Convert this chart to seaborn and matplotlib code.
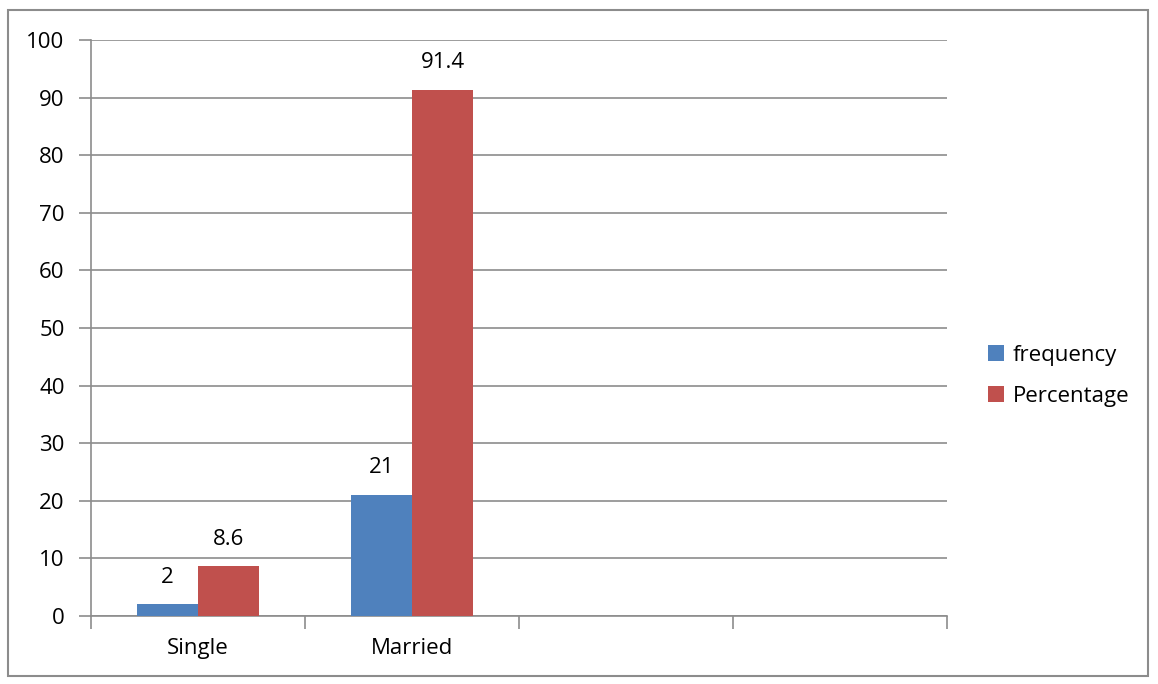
import pandas as pd
import matplotlib.pyplot as plt
import seaborn as sns
from matplotlib.patches import Rectangle

# data
status = ["Single", "Married"]
frequency = [2, 21]
percentage = [8.6, 91.4]
series = ["frequency", "Percentage"]
colors = ["#4F81BD", "#C0504D"]

df = pd.DataFrame({
    "Status": status * 2,
    "Series": [series[0]] * 2 + [series[1]] * 2,
    "Value": frequency + percentage,
})

sns.set_style("white")
plt.rcParams["font.family"] = ["Open Sans", "DejaVu Sans"]
plt.rcParams["text.color"] = "black"
plt.rcParams["xtick.labelcolor"] = "black"
plt.rcParams["ytick.labelcolor"] = "black"
fs = 16

fig = plt.figure(figsize=(11.58, 6.84), dpi=100)
ax = fig.add_axes([0.0786, 0.0994, 0.7392, 0.8421])

sns.barplot(
    data=df, x="Status", y="Value", hue="Series",
    palette=colors, width=0.57, saturation=1, ax=ax, zorder=3,
    edgecolor="none", linewidth=0
)

ax.set_xlim(-0.5, 3.5)
ax.set_ylim(0, 100)
ax.set_yticks(range(0, 101, 10))
ax.yaxis.grid(True, color="#8c8c8c", linewidth=1.2, zorder=0)
ax.set_axisbelow(True)

# category labels at centers, tick marks at boundaries
ax.set_xticks([0, 1])
ax.set_xticklabels(status, fontsize=fs)
ax.set_xticks([-0.5, 0.5, 1.5, 2.5, 3.5], minor=True)
ax.tick_params(axis="x", which="minor", bottom=True, length=9, width=1.2,
               color="#8c8c8c", direction="out")
ax.tick_params(axis="x", which="major", bottom=True, length=0, pad=16,
               labelcolor="black")
ax.tick_params(axis="y", left=True, length=9, width=1.2, color="#8c8c8c",
               direction="out", labelsize=fs, pad=10, labelcolor="black")

for s in ["top", "right"]:
    ax.spines[s].set_visible(False)
for s in ["left", "bottom"]:
    ax.spines[s].set_color("#8c8c8c")
    ax.spines[s].set_linewidth(1.2)

for c in ax.containers:
    ax.bar_label(c, labels=[f"{v:g}" for v in c.datavalues], padding=12,
                 fontsize=fs, color="black")

ax.set_xlabel("")
ax.set_ylabel("")

leg = ax.legend(
    loc="center left", bbox_to_anchor=(1.048, 0.4175), frameon=False,
    fontsize=fs, handlelength=0.7, handleheight=0.7, handletextpad=0.4,
    labelspacing=0.9, borderaxespad=0, borderpad=0
)
for t in leg.get_texts():
    t.set_color("black")

# outer chart border
fig.patches.append(Rectangle((8 / 1158, 1 - 676 / 684), 1140 / 1158, 666 / 684,
                             transform=fig.transFigure, fill=False,
                             edgecolor="#8c8c8c", linewidth=1.5))

fig.savefig("out.png", dpi=100)
